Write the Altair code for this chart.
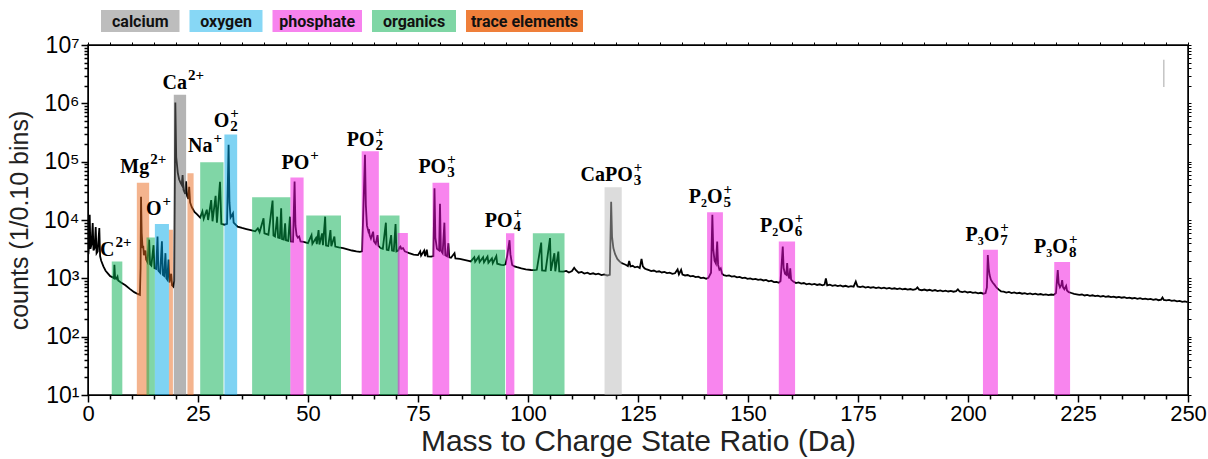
import altair as alt
import pandas as pd

# ---------------- data ----------------
# highlighted ion windows (Da) and their heights (counts)
bar_ion = ["C2+", "Mg2+", "org14", "O+", "tr19", "Ca2+", "tr23", "org27", "O2+", "org41",
           "PO+", "org53", "PO2+", "org68", "p71", "PO3+", "org90", "PO4+", "org104",
           "CaPO3+", "P2O5+", "P2O6+", "P3O7+", "P3O8+"]
bar_group = ["organics", "trace elements", "organics", "oxygen", "trace elements", "calcium",
             "trace elements", "organics", "oxygen", "organics", "phosphate", "organics",
             "phosphate", "organics", "phosphate", "phosphate", "organics", "phosphate",
             "organics", "calcium", "phosphate", "phosphate", "phosphate", "phosphate"]
bar_lo = [5.4, 11.1, 13.3, 15.2, 18.4, 19.5, 22.6, 25.5, 31.0, 37.3, 46.0, 49.6, 62.2, 66.3,
          70.4, 78.3, 87.0, 95.0, 101.1, 117.4, 140.7, 157.0, 203.4, 219.6]
bar_hi = [7.8, 13.9, 15.2, 18.4, 19.3, 22.3, 24.0, 30.8, 33.9, 46.0, 49.0, 57.5, 66.1, 70.8,
          72.7, 82.1, 94.8, 96.9, 108.3, 121.3, 144.3, 160.7, 206.8, 223.2]
bar_top = [1950, 43700, 5000, 8500, 6800, 1.4e6, 63000, 98000, 292000, 24600, 53500, 12000,
           151000, 12000, 6000, 43700, 3100, 5900, 5900, 36500, 13600, 4260, 3100, 1900]

# ion labels: base text, superscript, subscript, anchor (end of base text) and baseline
label_base = ["C", "Mg", "O", "Ca", "Na", "O", "PO", "PO", "PO", "PO", "CaPO",
              "P₂O", "P₂O", "P₃O", "P₃O"]
label_sup = ["2+", "2+", "+", "2+", "+", "+", "+", "+", "+", "+", "+", "+", "+", "+", "+"]
label_sub = ["", "", "", "", "", "2", "", "2", "3", "4", "3", "5", "6", "7", "8"]
label_mz = [6.0, 13.9, 16.7, 22.5, 28.3, 32.1, 50.3, 65.1, 81.4, 96.5, 123.8, 144.2, 160.4,
            207.1, 222.7]
label_counts = [2400, 64300, 12200, 1.75e6, 149000, 400000, 74300, 187000, 65000, 7700,
                47400, 19900, 6330, 4440, 2760]

# mass spectrum (m/z in Da, counts), read in three segments
spectrum_low = [
    (0.1, 2600), (0.25, 4000), (0.39, 12300), (0.55, 3200), (0.8, 3800), (1.07, 8900),
    (1.25, 3000), (1.5, 3300), (1.75, 7600), (1.95, 2700), (2.2, 2900), (2.57, 7300),
    (2.75, 2400), (3.0, 2000), (3.5, 1600), (4.0, 1350), (4.5, 1220), (5.0, 1100),
    (5.5, 1050), (5.9, 1000), (6.0, 1700), (6.15, 1050), (6.4, 980), (6.7, 1070),
    (6.85, 920), (7.5, 850), (8.5, 760), (9.5, 660), (10.5, 580), (11.3, 540), (11.8, 520),
    (11.95, 1500), (12.05, 25000), (12.2, 6000), (12.4, 3300), (12.55, 3600), (12.7, 2500),
    (13.05, 3000), (13.2, 2100), (13.5, 1900), (13.9, 4600), (14.1, 1750), (14.4, 1650),
    (14.9, 3700), (15.1, 1500), (15.5, 1450), (15.8, 5200), (16.0, 1350), (16.4, 1250),
    (16.8, 4300), (17.0, 1150), (17.3, 1100), (17.6, 2700), (17.8, 1000), (18.0, 950),
    (18.3, 2100), (18.5, 850), (18.9, 1200), (19.1, 760), (19.4, 720), (19.6, 900),
    (19.85, 1030000), (20.05, 120000), (20.4, 65000), (20.7, 50000), (21.0, 44000),
    (21.3, 40000), (21.5, 59000), (21.7, 33000), (22.1, 28000), (22.3, 46000), (22.5, 26000),
    (22.8, 23000), (23.0, 37000), (23.2, 20000), (23.6, 16500), (24.2, 13800), (24.8, 12500),
    (25.5, 11000), (26.0, 14000), (26.3, 10500), (27.0, 15000), (27.3, 10000), (28.0, 22000),
    (28.3, 9500), (29.0, 26000), (29.3, 9000), (30.0, 45000), (30.3, 8600), (31.0, 8300),
    (31.6, 8600), (31.95, 195000), (32.15, 20000), (32.4, 11000), (32.95, 13000),
    (33.1, 9000), (34.0, 7700), (35.0, 7300),
]
spectrum_mid = [
    (36.0, 7000), (37.0, 6700), (38.0, 6400), (38.6, 7200), (39.0, 6200), (39.9, 10700),
    (40.1, 5900), (41.0, 5600), (41.95, 21500), (42.15, 5400), (42.5, 5200), (43.0, 11400),
    (43.2, 5000), (43.6, 4900), (43.9, 15900), (44.1, 4700), (44.5, 4600), (44.8, 8800),
    (45.0, 4500), (45.5, 4400), (45.9, 11400), (46.1, 4300), (46.6, 4250), (46.95, 45500),
    (47.15, 8000), (47.4, 5500), (47.7, 5000), (48.0, 5200), (48.3, 4300), (49.0, 4200),
    (49.6, 4100), (50.0, 4000), (50.8, 5500), (51.0, 3900), (51.8, 4900), (52.0, 3850),
    (52.4, 6700), (52.6, 3800), (53.2, 5900), (53.4, 3700), (53.9, 11400), (54.1, 3650),
    (54.6, 3600), (55.1, 6700), (55.3, 3550), (56.0, 5200), (56.2, 3500), (57.0, 3400),
    (58.0, 3300), (59.0, 3150), (60.0, 3000), (61.0, 2900), (61.8, 2850), (62.3, 2900),
    (62.95, 131000), (63.15, 18000), (63.4, 8000), (63.7, 6500), (63.85, 7000), (64.0, 5500),
    (64.3, 4800), (64.8, 6300), (65.0, 4300), (65.4, 3900), (65.8, 5500), (66.0, 3600),
    (66.5, 3300), (67.0, 3200), (67.7, 9000), (67.9, 3100), (68.3, 3050), (68.9, 5500),
    (69.1, 3000), (69.5, 2950), (69.9, 8500), (70.1, 2900), (70.5, 3000), (70.8, 3400),
    (71.0, 3500), (71.2, 3200), (71.6, 3300), (72.0, 2900), (72.5, 2800), (73.0, 2700),
    (74.0, 2550), (75.0, 2500), (75.5, 2900), (75.7, 2450), (76.4, 3000), (76.6, 2400),
    (77.0, 3100), (77.2, 2380), (78.0, 2350), (78.5, 2400), (78.75, 35000), (78.95, 5000),
    (79.3, 3200), (79.8, 3000), (80.0, 19000), (80.2, 3000), (80.6, 2700), (81.0, 9000),
    (81.2, 2500), (81.6, 2400), (81.9, 4000), (82.1, 2300), (82.5, 2250), (83.3, 2700),
    (83.5, 2200), (84.5, 2150), (85.5, 2080), (86.5, 2000), (87.0, 1950), (87.8, 2300),
    (88.0, 1930), (88.8, 2350), (89.0, 1900), (89.8, 2300), (90.0, 1880), (90.8, 2350),
    (91.0, 1850), (91.8, 2200), (92.0, 1820), (92.8, 2400), (93.0, 1780), (93.9, 1700),
    (94.5, 1690), (94.9, 1750), (95.3, 2500), (95.8, 4500), (96.0, 2600), (96.4, 1700),
    (96.9, 1600), (97.5, 1550), (98.5, 1480), (99.5, 1430), (100.7, 1390), (101.5, 1380),
    (102.0, 1400), (103.0, 4100), (103.2, 1370), (104.0, 1350), (105.0, 4900), (105.2, 1340),
    (106.0, 2700), (106.2, 1320), (106.9, 2870), (107.1, 1310),
]
spectrum_high = [
    (108.0, 1300), (108.7, 1340), (109.3, 1260), (110.0, 1330), (110.5, 1520), (110.9, 1380),
    (111.5, 1250), (112.2, 1290), (112.8, 1210), (113.5, 1250), (114.1, 1180), (114.8, 1220),
    (115.4, 1170), (116.0, 1200), (116.7, 1140), (117.3, 1170), (118.0, 1120), (118.6, 1150),
    (118.9, 20600), (119.1, 5200), (119.4, 3300), (119.8, 2600), (120.3, 2150), (120.8, 1950),
    (121.3, 1820), (121.8, 1760), (122.3, 1690), (122.7, 1620), (123.0, 1980), (123.3, 1600),
    (123.8, 1640), (124.3, 1540), (124.9, 1580), (125.4, 1500), (125.8, 2150), (126.1, 1600),
    (126.5, 1480), (127.0, 1420), (127.5, 1380), (128.0, 1330), (128.6, 1360), (129.2, 1290),
    (129.8, 1320), (130.4, 1260), (131.0, 1290), (131.6, 1230), (132.2, 1250), (132.8, 1190),
    (133.4, 1220), (134.0, 1420), (134.3, 1170), (134.8, 1400), (135.1, 1160), (135.7, 1120),
    (136.3, 1140), (136.9, 1080), (137.5, 1100), (138.1, 1050), (138.7, 1070), (139.3, 1010),
    (139.9, 1030), (140.5, 980), (141.0, 1020), (141.6, 1250), (141.9, 12300), (142.1, 3200),
    (142.4, 2000), (142.7, 1800), (143.0, 4260), (143.2, 1700), (143.5, 1400), (143.8, 1480),
    (144.1, 1200), (144.5, 1130), (145.1, 1100), (145.7, 1120), (146.3, 1070), (146.9, 1090),
    (147.5, 1040), (148.1, 1060), (148.7, 1010), (149.3, 1030), (149.9, 980), (150.5, 1000),
    (151.1, 960), (151.7, 980), (152.3, 940), (152.9, 960), (153.5, 920), (154.1, 940),
    (154.7, 890), (155.3, 910), (155.9, 860), (156.5, 870), (157.0, 840), (157.4, 900),
    (157.9, 3500), (158.1, 1500), (158.4, 1200), (158.7, 1150), (158.9, 1830), (159.1, 1150),
    (159.4, 1000), (159.6, 1480), (159.8, 950), (160.3, 880), (160.9, 830), (161.5, 850),
    (162.1, 810), (162.7, 830), (163.3, 790), (163.9, 810), (164.5, 780), (165.1, 800),
    (165.7, 770), (166.3, 790), (166.9, 760), (167.4, 780), (167.7, 1000), (168.0, 760),
    (168.6, 780), (169.2, 745), (169.8, 765), (170.4, 735), (171.0, 755), (171.6, 725),
    (172.2, 745), (172.8, 715), (173.4, 735), (174.0, 720), (174.5, 880), (174.9, 725),
    (175.5, 705), (176.1, 725), (176.7, 695), (177.3, 715), (177.9, 690), (178.5, 705),
    (179.1, 680), (179.7, 700), (180.3, 675), (180.9, 690), (181.5, 665), (182.1, 685),
    (182.7, 660), (183.3, 675), (183.9, 655), (184.5, 670), (185.1, 648), (185.7, 662),
    (186.3, 640), (186.9, 655), (187.5, 635), (188.1, 650), (188.5, 700), (188.9, 640),
    (189.5, 625), (190.1, 642), (190.7, 620), (191.3, 636), (191.9, 612), (192.5, 630),
    (193.1, 605), (193.7, 622), (194.3, 600), (194.9, 615), (195.5, 595), (196.1, 610),
    (196.7, 590), (197.3, 605), (197.7, 650), (198.1, 595), (198.7, 580), (199.3, 595),
    (199.9, 572), (200.5, 585), (201.1, 562), (201.7, 575), (202.3, 552), (202.9, 565),
    (203.5, 545), (204.0, 560), (204.3, 700), (204.5, 2500), (204.7, 1500), (204.9, 1150),
    (205.2, 950), (205.6, 850), (206.0, 780), (206.5, 690), (207.0, 640), (207.5, 600),
    (208.1, 590), (208.7, 570), (209.3, 585), (209.9, 560), (210.5, 575), (211.1, 552),
    (211.7, 565), (212.3, 545), (212.9, 558), (213.5, 538), (214.1, 550), (214.7, 532),
    (215.3, 545), (215.9, 525), (216.5, 538), (217.1, 520), (217.7, 532), (218.3, 515),
    (218.9, 528), (219.5, 520), (220.0, 560), (220.2, 900), (220.4, 1390), (220.6, 820),
    (220.9, 700), (221.2, 760), (221.4, 935), (221.6, 700), (221.9, 650), (222.3, 740),
    (222.5, 620), (222.9, 580), (223.5, 560), (224.1, 540), (224.7, 530), (225.3, 520),
    (225.9, 528), (226.5, 508), (227.1, 520), (227.7, 500), (228.3, 512), (228.9, 495),
    (229.5, 505), (230.1, 488), (230.7, 498), (231.3, 482), (231.9, 492), (232.5, 476),
    (233.1, 486), (233.7, 470), (234.3, 480), (234.9, 465), (235.5, 474), (236.1, 458),
    (236.7, 468), (237.3, 452), (237.9, 462), (238.5, 446), (239.1, 456), (239.7, 440),
    (240.3, 450), (240.9, 435), (241.5, 445), (242.1, 428), (242.7, 438), (243.3, 422),
    (243.9, 432), (244.2, 470), (244.5, 425), (245.1, 418), (245.7, 426), (246.3, 410),
    (246.9, 418), (247.5, 402), (248.1, 410), (248.7, 396), (249.3, 402), (249.9, 392),
]

# small grey stroke in the upper right corner of the frame
mark_mz = [244.5]
mark_lo = [1.9e6]
mark_hi = [5.6e6]

legend_labels = ["calcium", "oxygen", "phosphate", "organics", "trace elements"]
legend_colors = ["#bdbdbd", "#87d7f5", "#f783ee", "#7fd6a5", "#ef7f3a"]

# ---------------- styling ----------------
groups = ["calcium", "oxygen", "phosphate", "organics", "trace elements"]
bar_colors = ["#b9b9b9", "#00a7e7", "#f10bdd", "#01ad4d", "#e9691d"]
SANS = "Liberation Sans"
SERIF = "Liberation Serif"
W, H = 1100, 350

spec = pd.DataFrame(spectrum_low + spectrum_mid + spectrum_high, columns=["mz", "counts"])
bars = pd.DataFrame({"ion": bar_ion, "group": bar_group, "lo": bar_lo, "hi": bar_hi,
                     "top": bar_top})
labels = pd.DataFrame({"base": label_base, "sup": label_sup, "sub": label_sub,
                       "mz": label_mz, "counts": label_counts})
corner = pd.DataFrame({"mz": mark_mz, "lo": mark_lo, "hi": mark_hi})

xscale = alt.Scale(domain=[0, 250], nice=False, zero=False)
yscale = alt.Scale(type="log", domain=[10, 1e7], nice=False)

x_ticks = list(range(0, 251, 5))
y_ticks = [m * 10 ** e for e in range(1, 7) for m in range(1, 10)] + [10 ** 7]
is_decade = "abs(log(datum.value)/LN10 - round(log(datum.value)/LN10)) < 0.001"

x_axis = alt.Axis(
    values=x_ticks, labelExpr="datum.value % 25 == 0 ? datum.label : ''",
    tickSize={"condition": {"test": "datum.value % 25 == 0", "value": 7}, "value": 4},
    title="Mass to Charge State Ratio (Da)", labelFont=SANS, labelFontSize=22,
    labelColor="black", labelFlush=False, labelOverlap=False, labelPadding=1,
    titleFont=SANS, titleFontSize=30, titleFontWeight="normal", titleColor="#222",
    titlePadding=2, grid=False, domainColor="black", tickColor="black", tickWidth=1.5,
)
y_axis = alt.Axis(
    values=y_ticks,
    labelExpr=is_decade + " ? '10' + ['⁰','¹','²','³','⁴','⁵','⁶','⁷'][round(log(datum.value)/LN10)] : ''",
    tickSize={"condition": {"test": is_decade, "value": 7}, "value": 4},
    title="counts (1/0.10 bins)", labelFont=SANS, labelFontSize=23, labelColor="black",
    labelFlush=False, labelOverlap=False, labelPadding=2, titleFont=SANS, titleFontSize=25,
    titleFontWeight="normal", titleColor="#222", titlePadding=11, grid=False,
    domainColor="black", tickColor="black", tickWidth=1.5,
)

line = alt.Chart(spec).mark_line(color="black", strokeWidth=1.8, clip=True).encode(
    x=alt.X("mz:Q", scale=xscale, axis=x_axis),
    y=alt.Y("counts:Q", scale=yscale, axis=y_axis),
    order="mz:Q",
)

rects = alt.Chart(bars).mark_rect(opacity=1, fillOpacity=0.5, clip=True).encode(
    x=alt.X("lo:Q", scale=xscale, axis=None),
    x2="hi:Q",
    y=alt.Y("top:Q", scale=yscale, axis=None),
    y2=alt.datum(10),
    color=alt.condition(
        "datum.ion == 'Ca2+'", alt.value("#6a6a6a"),
        alt.Color("group:N", scale=alt.Scale(domain=groups, range=bar_colors), legend=None),
    ),
)

base_text = alt.Chart(labels).mark_text(
    font=SERIF, fontWeight="bold", fontSize=20, align="right", baseline="alphabetic",
    color="black",
).encode(x=alt.X("mz:Q", scale=xscale, axis=None),
         y=alt.Y("counts:Q", scale=yscale, axis=None), text="base:N")
sup_text = alt.Chart(labels).mark_text(
    font=SERIF, fontWeight="bold", fontSize=15, align="left", baseline="alphabetic",
    color="black", dx=1, dy=-9,
).encode(x=alt.X("mz:Q", scale=xscale, axis=None),
         y=alt.Y("counts:Q", scale=yscale, axis=None), text="sup:N")
sub_text = alt.Chart(labels).mark_text(
    font=SERIF, fontWeight="bold", fontSize=15, align="left", baseline="alphabetic",
    color="black", dx=1, dy=4,
).encode(x=alt.X("mz:Q", scale=xscale, axis=None),
         y=alt.Y("counts:Q", scale=yscale, axis=None), text="sub:N")

frame_axes = alt.Chart(corner).mark_rule(color="#c4c4c4", strokeWidth=1.5).encode(
    x=alt.X("mz:Q", scale=xscale,
            axis=alt.Axis(orient="top", values=x_ticks, labels=False, title=None,
                          tickSize=3, grid=False, domainColor="black", tickColor="black")),
    y=alt.Y("lo:Q", scale=yscale,
            axis=alt.Axis(orient="right", values=y_ticks, labels=False, title=None,
                          tickSize=3, grid=False, domainColor="black", tickColor="black")),
    y2="hi:Q",
)

main = alt.layer(line, rects, base_text, sup_text, sub_text, frame_axes).resolve_axis(
    x="independent", y="independent"
).properties(width=W, height=H)

# ---------------- legend row ----------------
starts, ends = [], []
pos = 13
for lab in legend_labels:
    w = 5.5 * len(lab) + 40
    starts.append(pos)
    ends.append(pos + w)
    pos += w + 10
leg = pd.DataFrame({"label": legend_labels, "x0": starts, "x1": ends,
                    "xm": [(a + b) / 2 for a, b in zip(starts, ends)]})
lscale = alt.Scale(domain=[0, W], nice=False, zero=False)
leg_boxes = alt.Chart(leg).mark_rect().encode(
    x=alt.X("x0:Q", scale=lscale, axis=None), x2="x1:Q",
    y=alt.value(0), y2=alt.value(22),
    color=alt.Color("label:N", scale=alt.Scale(domain=legend_labels, range=legend_colors),
                    legend=None),
)
leg_text = alt.Chart(leg).mark_text(
    font="Roboto", fontWeight="bold", fontSize=16, color="#111", baseline="middle",
    align="center",
).encode(x=alt.X("xm:Q", scale=lscale, axis=None), y=alt.value(11.5), text="label:N")
legend = alt.layer(leg_boxes, leg_text).properties(
    width=W, height=22, view=alt.ViewBackground(stroke=None)
)

chart = alt.vconcat(legend, main, spacing=13, bounds="flush").resolve_scale(
    color="independent"
).properties(
    padding={"left": 6, "top": 10, "right": 0, "bottom": 0}
).configure_view(stroke="black", strokeWidth=1.5)

chart.save("out.html", embed_options={"renderer": "svg", "actions": False})
